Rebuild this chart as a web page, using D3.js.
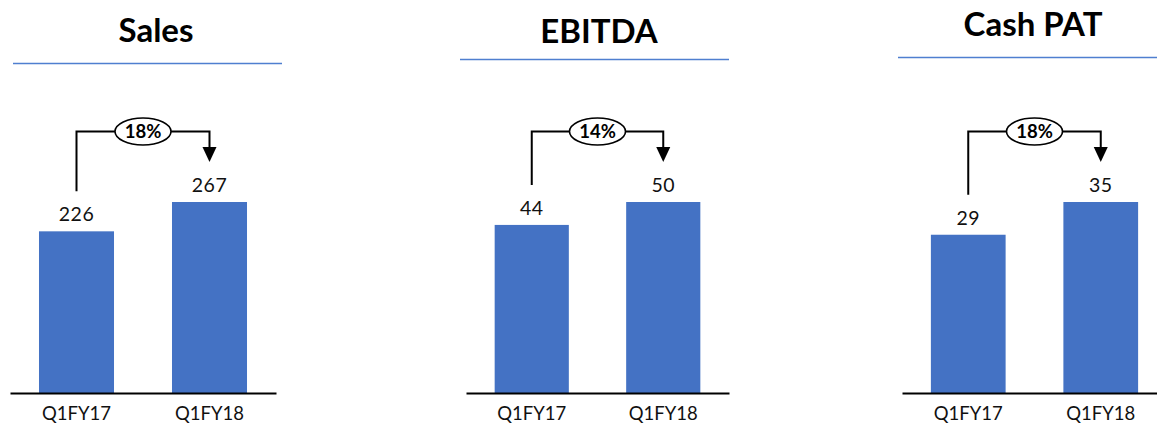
<!DOCTYPE html>
<html>
<head>
<meta charset="utf-8">
<script src="https://cdn.jsdelivr.net/npm/d3@7"></script>
<style>
  html, body { margin: 0; padding: 0; background: #fff; }
  svg { display: block; }
</style>
</head>
<body>
<svg id="chart" width="1157" height="424"></svg>
<script>
// ---- data ----
const categories = ["Q1FY17", "Q1FY18"];
const titles = ["Sales", "EBITDA", "Cash PAT"];
const salesValues = [226, 267];
const ebitdaValues = [44, 50];
const cashPatValues = [29, 35];
const growthLabels = ["18%", "14%", "18%"];

// ---- layout ----
const series = [salesValues, ebitdaValues, cashPatValues];
const panelLayout = [
  { axis: [10, 276], rule: [13, 282], ruleY: 63.5, titleX: 156, titleY: 42 },
  { axis: [466, 729], rule: [460, 729], ruleY: 59.5, titleX: 599, titleY: 43 },
  { axis: [902, 1167], rule: [898, 1157], ruleY: 57.5, titleX: 1033, titleY: 36 }
];
const baseY = 393, topY = 202;
const bracketY = 131.5, bracketGap = 40;
const barColor = "#4472C4";
const font = "Lato, 'Open Sans', sans-serif";

const svg = d3.select("#chart");

panelLayout.forEach((L, i) => {
  const vals = series[i];
  const g = svg.append("g");

  const x = d3.scaleBand().domain(categories).range(L.axis)
    .paddingInner(0.436).paddingOuter(0.218);
  const y = d3.scaleLinear().domain([0, d3.max(vals)]).range([baseY, topY]);

  // title
  g.append("text")
    .attr("x", L.titleX).attr("y", L.titleY)
    .attr("text-anchor", "middle")
    .style("font-family", font).style("font-weight", 700).style("font-size", "33px")
    .attr("fill", "#000")
    .text(titles[i]);

  // blue rule under title
  g.append("line")
    .attr("x1", L.rule[0]).attr("x2", L.rule[1])
    .attr("y1", L.ruleY).attr("y2", L.ruleY)
    .attr("stroke", "#4F7FD0").attr("stroke-width", 1.3);

  // bars
  g.selectAll("rect.bar").data(vals).join("rect")
    .attr("class", "bar")
    .attr("x", (d, j) => x(categories[j]))
    .attr("width", x.bandwidth())
    .attr("y", d => y(d))
    .attr("height", d => baseY - y(d))
    .attr("fill", barColor);

  // value labels
  g.selectAll("text.val").data(vals).join("text")
    .attr("class", "val")
    .attr("x", (d, j) => x(categories[j]) + x.bandwidth() / 2)
    .attr("y", d => y(d) - 10)
    .attr("text-anchor", "middle")
    .style("font-family", font).style("font-size", "19.5px")
    .style("letter-spacing", "0.5px")
    .attr("fill", "#111")
    .text(d => d);

  // x axis
  const axis = d3.axisBottom(x).tickSize(0).tickPadding(14);
  const ax = g.append("g").attr("transform", `translate(0,${baseY})`).call(axis);
  ax.select(".domain").attr("stroke", "#000").attr("stroke-width", 2.2);
  ax.selectAll("text")
    .style("font-family", font).style("font-size", "18.5px")
    .attr("fill", "#111");

  // growth bracket
  const cx0 = x(categories[0]) + x.bandwidth() / 2;
  const cx1 = x(categories[1]) + x.bandwidth() / 2;
  const yStart = y(vals[0]) - bracketGap;
  const yTip = y(vals[1]) - bracketGap;
  const headLen = 15, headHalf = 7;
  g.append("path")
    .attr("d", `M${cx0},${yStart} V${bracketY} H${cx1} V${yTip - headLen + 1}`)
    .attr("fill", "none").attr("stroke", "#000").attr("stroke-width", 2);
  g.append("path")
    .attr("d", `M${cx1 - headHalf},${yTip - headLen} L${cx1 + headHalf},${yTip - headLen} L${cx1},${yTip} Z`)
    .attr("fill", "#000");

  const mx = (cx0 + cx1) / 2;
  g.append("ellipse")
    .attr("cx", mx).attr("cy", bracketY)
    .attr("rx", 28).attr("ry", 13.5)
    .attr("fill", "#fff").attr("stroke", "#000").attr("stroke-width", 1.6);
  g.append("text")
    .attr("x", mx).attr("y", bracketY + 6.5)
    .attr("text-anchor", "middle")
    .style("font-family", font).style("font-weight", 700).style("font-size", "18.5px")
    .attr("fill", "#000")
    .text(growthLabels[i]);
});
</script>
</body>
</html>
